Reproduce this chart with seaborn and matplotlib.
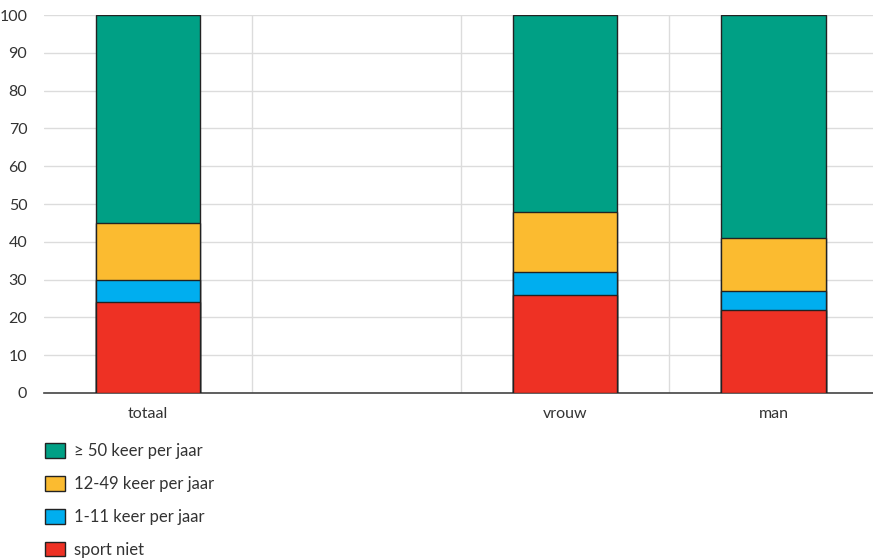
import numpy as np
import pandas as pd
import matplotlib
matplotlib.use("Agg")
import matplotlib.pyplot as plt
from matplotlib.patches import Patch
import seaborn as sns

# ─── Data ─────────────────────────────────────────────────────────────────────

groups = ["totaal", "", "vrouw", "man"]
sport_niet = [24, np.nan, 26, 22]
keer_1_11 = [6, np.nan, 6, 5]
keer_12_49 = [15, np.nan, 16, 14]
keer_50 = [55, np.nan, 52, 59]

series_names = ["sport niet", "1-11 keer per jaar", "12-49 keer per jaar", "\u2265 50 keer per jaar"]
colors = ["#ee3124", "#00aeef", "#fbbb30", "#00a085"]

# ─── Stack ────────────────────────────────────────────────────────────────────

vals = np.array([sport_niet, keer_1_11, keer_12_49, keer_50], dtype=float)
tops = np.cumsum(vals, axis=0)

sns.set_style("white")
plt.rcParams["font.family"] = ["Lato", "DejaVu Sans"]

fig = plt.figure(figsize=(8.73, 5.58), dpi=100)
ax = fig.add_axes([0.0504, 0.2957, 0.955, 0.6773])

# draw tallest first so lower segments overlay
for i in range(len(series_names) - 1, -1, -1):
    df = pd.DataFrame({"group": groups, "value": tops[i]})
    sns.barplot(data=df, x="group", y="value", order=groups, color=colors[i],
                width=0.5, edgecolor="#222222", linewidth=1.0, saturation=1,
                ax=ax, zorder=3)

ax.set_xlim(-0.5, 3.5)
ax.set_ylim(0, 100)
ax.set_yticks(range(0, 101, 10))
ax.set_xticks([0, 2, 3])
ax.set_xticklabels(["totaal", "vrouw", "man"])
ax.set_xticks([0.5, 1.5, 2.5], minor=True)
ax.set_xlabel("")
ax.set_ylabel("")

ax.grid(axis="y", which="major", color="#dcdcdc", linewidth=1, zorder=0)
ax.grid(axis="x", which="minor", color="#dcdcdc", linewidth=1, zorder=0)
ax.grid(axis="x", which="major", visible=False)
ax.set_axisbelow(True)

for s in ["top", "right", "left"]:
    ax.spines[s].set_visible(False)
ax.spines["bottom"].set_color("#444444")
ax.spines["bottom"].set_linewidth(1.2)

ax.tick_params(axis="y", length=0, labelsize=11.5, colors="#333333", pad=12)
ax.tick_params(axis="x", which="major", length=5, width=1, color="#444444",
               labelsize=11.5, labelcolor="#333333", pad=5)
ax.tick_params(axis="x", which="minor", length=0)

handles = [Patch(facecolor=colors[i], edgecolor="#222222", linewidth=1.0, label=series_names[i])
           for i in range(len(series_names) - 1, -1, -1)]
fig.legend(handles=handles, loc="upper left", bbox_to_anchor=(0.044, 0.218),
           frameon=False, fontsize=12, labelcolor="#333333", handlelength=1.2,
           handleheight=1.0, handletextpad=0.55, labelspacing=1.0,
           borderaxespad=0)

fig.savefig("out.png", dpi=100)
plt.close(fig)
